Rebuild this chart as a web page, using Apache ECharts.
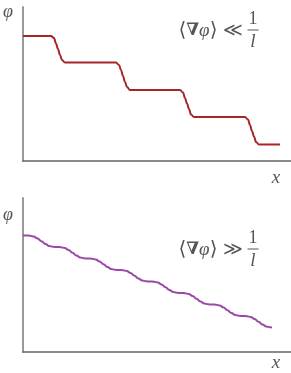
<!DOCTYPE html>
<html>
<head>
<meta charset="utf-8">
<script src="https://cdn.jsdelivr.net/npm/echarts@6/dist/echarts.min.js"></script>
<style>html,body{margin:0;padding:0;background:#fff}#c{width:291px;height:373px}</style>
</head>
<body>
<div id="c"></div>
<script>
// Top panel: staircase (x, phi)
const stairData = [
  [0,125],[28,125],[31,123],[33,117.5],[35,112],[37,106],[39,101],[42,98.5],
  [93,98.5],[96,96],[98,91],[100,85],[102,79],[104,74],[107,71],
  [157,71],[160,68.5],[162,63],[164,57.5],[166,52],[168,46.5],[171,44],
  [222,44],[225,41.5],[227,36],[229,30],[231,24.5],[233,19],[236,16.5],
  [257,16.5]
];
// Bottom panel: wavy descending line (x, phi)
const wavyData = [
  [0,116.5],
  [3,116.5],[7,116.3],[10.75,115.4],[14.6,113.5],[18.5,110.8],[22.4,108],[26.25,106],[30,105.2],
  [34,105],[38,104.8],[41.75,104],[45.6,102],[49.5,99.3],[53.4,96.5],[57.25,94.5],[61,93.7],
  [65,93.5],[69,93.3],[72.75,92.5],[76.6,90.5],[80.5,87.8],[84.4,85],[88.25,83],[92,82.2],
  [96,82],[100,81.8],[103.75,81],[107.6,79],[111.5,76.3],[115.4,73.5],[119.25,71.5],[123,70.7],
  [127,70.5],[131,70.3],[134.75,69.5],[138.6,67.5],[142.5,64.8],[146.4,62],[150.25,60],[154,59.2],
  [158,59],[162,58.8],[165.75,58],[169.6,56],[173.5,53.3],[177.4,50.5],[181.25,48.5],[185,47.7],
  [189,47.5],[193,47.3],[196.75,46.5],[200.6,44.5],[204.5,41.8],[208.4,39],[212.25,37],[216,36.2],
  [220,36],[224,35.8],[227.75,35],[231.6,33],[235.5,30.3],[239.4,27.5],[243.25,25.5],[247,24.7],
  [249,24.5]
];
const yLabel = 'φ';
const xLabel = 'x';
const topRel = '≪';
const bottomRel = '≫';
const fracNum = '1';
const fracDen = 'l';

const chart = echarts.init(document.getElementById('c'), null, {renderer:'canvas'});
const xAx = (gi) => ({
  type:'value', gridIndex:gi, min:0, max:268,
  axisLine:{show:true, onZero:false, lineStyle:{color:'#666', width:1.5}},
  axisTick:{show:false}, axisLabel:{show:false}, splitLine:{show:false}
});
const yAx = (gi) => ({
  type:'value', gridIndex:gi, min:0, max:154,
  axisLine:{show:true, onZero:false, lineStyle:{color:'#999', width:2}},
  axisTick:{show:false}, axisLabel:{show:false}, splitLine:{show:false}
});
const txtColor = '#555';
const serif = 'Liberation Serif';
function label(x, y, t, size, italic, fam) {
  return {type:'text', x:x, y:y, style:{text:t, fill:txtColor, fontSize:size,
    fontFamily:fam || serif, fontStyle:italic?'italic':'normal',
    align:'center', verticalAlign:'middle'}};
}
function expr(cy, rel) {
  return [
    {type:'text', x:211, y:cy+1, style:{
      text:'{a|⟨}{n|∇}{p|' + yLabel + '}{a|⟩}{r| ' + rel + '}',
      fill:txtColor, align:'center', verticalAlign:'middle',
      rich:{
        a:{fontSize:20, fontFamily:'DejaVu Serif', fill:txtColor},
        n:{fontSize:17, fontFamily:'DejaVu Serif', fontWeight:'bold', fill:txtColor},
        p:{fontSize:19, fontFamily:serif, fontStyle:'italic', fill:txtColor},
        r:{fontSize:19, fontFamily:'DejaVu Serif', fill:txtColor}
      }}},
    label(253, cy-11, fracNum, 18, false),
    {type:'line', shape:{x1:247.5, y1:cy, x2:258.5, y2:cy}, style:{stroke:txtColor, lineWidth:1}},
    label(253, cy+12, fracDen, 19, true)
  ];
}
chart.setOption({
  animation:false,
  grid:[
    {left:23, right:0, top:7, height:154},
    {left:23, right:0, top:198, height:154}
  ],
  xAxis:[xAx(0), xAx(1)],
  yAxis:[yAx(0), yAx(1)],
  series:[
    {type:'line', xAxisIndex:0, yAxisIndex:0, data:stairData, showSymbol:false, smooth:0.4, smoothMonotone:'x',
     lineStyle:{color:'#a3262a', width:2}},
    {type:'line', xAxisIndex:1, yAxisIndex:1, data:wavyData, showSymbol:false, smooth:0.5, smoothMonotone:'x',
     lineStyle:{color:'#9c48a8', width:2}}
  ],
  graphic:[
    label(8, 12, yLabel, 18, true),
    label(276, 178, xLabel, 19, true),
    label(8, 215, yLabel, 18, true),
    label(276, 363, xLabel, 19, true)
  ].concat(expr(30, topRel)).concat(expr(249, bottomRel))
});
</script>
</body>
</html>
